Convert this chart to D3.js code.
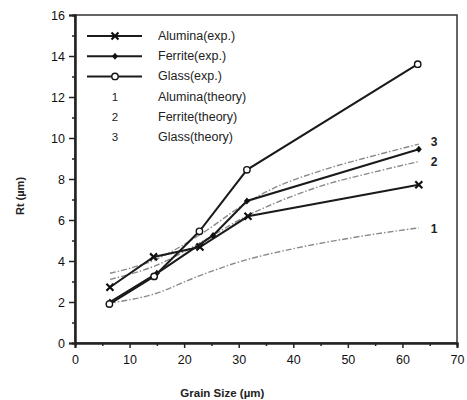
<!DOCTYPE html>
<html lang="en">
<head>
  <meta charset="UTF-8" />
  <title>Rt vs Grain Size</title>
  <script src="https://d3js.org/d3.v7.min.js"></script>
  <style>
    body { margin: 0; background: #fff; font-family: 'Liberation Sans', Arial, sans-serif; }
    svg { display: block; }
    .tick text { font-size: 12.5px; fill: #111; }
  </style>
</head>
<body>
<svg width="467" height="400"></svg>
<script>
  // experimental data (grain size µm -> Rt µm)
  const aluminaExp = [[6.4, 2.72], [14.4, 4.2], [22.9, 4.68], [31.7, 6.18], [63, 7.72]];
  const ferriteExp = [[6.4, 2.0], [15.0, 3.4], [25.3, 5.25], [31.5, 6.93], [63, 9.45]];
  const glassExp = [[6.3, 1.9], [14.5, 3.25], [22.8, 5.45], [31.5, 8.45], [62.8, 13.6]];

  // theory curves
  const aluminaTheory = [[6.4, 1.95], [14, 2.35], [23, 3.3], [30, 3.95], [40, 4.6], [50, 5.1], [63, 5.62]];
  const ferriteTheory = [[6.4, 3.1], [15, 3.8], [23, 4.9], [31.5, 6.2], [36, 6.75], [45, 7.65], [55, 8.35], [63, 8.85]];
  const glassTheory = [[6.4, 3.4], [15, 4.1], [23, 5.3], [31.5, 6.85], [36, 7.5], [45, 8.4], [55, 9.15], [63, 9.7]];

  const xTicks = [0, 10, 20, 30, 40, 50, 60, 70];
  const yTicks = [0, 2, 4, 6, 8, 10, 12, 14, 16];

  const legendItems = [
    { label: "Alumina(exp.)", kind: "cross" },
    { label: "Ferrite(exp.)", kind: "dot" },
    { label: "Glass(exp.)", kind: "circle" },
    { label: "Alumina(theory)", kind: "1" },
    { label: "Ferrite(theory)", kind: "2" },
    { label: "Glass(theory)", kind: "3" }
  ];

  const svg = d3.select("svg");
  const margin = { left: 75, top: 15, right: 10, bottom: 57 };
  const width = 467 - margin.left - margin.right;
  const height = 400 - margin.top - margin.bottom;

  const x = d3.scaleLinear().domain([0, 70]).range([0, width]);
  const y = d3.scaleLinear().domain([0, 16]).range([height, 0]);

  const g = svg.append("g").attr("transform", `translate(${margin.left},${margin.top})`);

  // frame
  g.append("rect")
    .attr("width", width).attr("height", height)
    .attr("fill", "none").attr("stroke", "#333").attr("stroke-width", 1.5);

  // axes
  g.append("g").attr("transform", `translate(0,${height})`)
    .call(d3.axisBottom(x).tickValues(xTicks).tickSize(5).tickPadding(7));
  g.append("g").attr("transform", `translate(0,${height})`)
    .call(d3.axisBottom(x).tickValues(d3.range(5, 70, 10)).tickSize(3).tickFormat(""));
  g.append("g")
    .call(d3.axisLeft(y).tickValues(yTicks).tickSize(6).tickPadding(4));
  g.append("g")
    .call(d3.axisLeft(y).tickValues(d3.range(1, 16, 2)).tickSize(3).tickFormat(""));
  g.selectAll(".domain").attr("stroke", "#222").attr("stroke-width", 2);
  g.selectAll(".tick line").attr("stroke", "#222").attr("stroke-width", 1.5);

  // theory curves (gray dash-dot)
  const curve = d3.line().x(d => x(d[0])).y(d => y(d[1])).curve(d3.curveMonotoneX);
  [aluminaTheory, ferriteTheory, glassTheory].forEach(data => {
    g.append("path").datum(data)
      .attr("d", curve)
      .attr("fill", "none")
      .attr("stroke", "#8a8a8a")
      .attr("stroke-width", 1.4)
      .attr("stroke-dasharray", "6,2,1.5,2");
  });

  // curve numbers
  [[aluminaTheory, "1"], [ferriteTheory, "2"], [glassTheory, "3"]].forEach(([data, n]) => {
    const last = data[data.length - 1];
    g.append("text")
      .attr("x", x(last[0]) + 12)
      .attr("y", y(last[1]) + 4 - (n === "3" ? 2 : 0) + (n === "1" ? 1 : 0))
      .attr("font-size", 12).attr("font-weight", "bold").attr("fill", "#222")
      .text(n);
  });

  // experimental lines
  const line = d3.line().x(d => x(d[0])).y(d => y(d[1]));
  const series = [
    { data: aluminaExp, kind: "cross" },
    { data: ferriteExp, kind: "dot" },
    { data: glassExp, kind: "circle" }
  ];

  function drawMarker(sel, kind, cx, cy) {
    if (kind === "cross") {
      sel.append("path")
        .attr("d", `M${cx - 3.5},${cy - 3.5}L${cx + 3.5},${cy + 3.5}M${cx - 3.5},${cy + 3.5}L${cx + 3.5},${cy - 3.5}`)
        .attr("stroke", "#111").attr("stroke-width", 2.2);
    } else if (kind === "dot") {
      sel.append("path")
        .attr("d", `M${cx},${cy - 3.5}L${cx + 3},${cy}L${cx},${cy + 3.5}L${cx - 3},${cy}Z`)
        .attr("fill", "#111");
    } else if (kind === "circle") {
      sel.append("circle")
        .attr("cx", cx).attr("cy", cy).attr("r", 3.2)
        .attr("fill", "#fff").attr("stroke", "#111").attr("stroke-width", 1.4);
    }
  }

  series.forEach(s => {
    g.append("path").datum(s.data)
      .attr("d", line)
      .attr("fill", "none")
      .attr("stroke", "#1a1a1a")
      .attr("stroke-width", 2);
    s.data.forEach(d => drawMarker(g, s.kind, x(d[0]), y(d[1])));
  });

  // legend
  const legend = g.append("g").attr("transform", "translate(12,21)");
  legendItems.forEach((item, i) => {
    const row = legend.append("g").attr("transform", `translate(0,${i * 20.2})`);
    if (item.kind.length > 1) {
      row.append("line").attr("x1", 0).attr("x2", 55).attr("y1", 0).attr("y2", 0)
        .attr("stroke", "#1a1a1a").attr("stroke-width", 2);
      drawMarker(row, item.kind, 28, 0);
    } else {
      row.append("text").attr("x", 28).attr("y", 4)
        .attr("text-anchor", "middle").attr("font-size", 11.5).attr("fill", "#222")
        .text(item.kind);
    }
    row.append("text").attr("x", 71).attr("y", 4)
      .attr("font-size", 12.5).attr("fill", "#222")
      .text(item.label);
  });

  // axis labels
  svg.append("text")
    .attr("x", margin.left + x(27)).attr("y", 397)
    .attr("text-anchor", "middle")
    .attr("font-size", 11.5).attr("font-weight", "bold").attr("fill", "#222")
    .text("Grain Size (\u00b5m)");

  svg.append("text")
    .attr("transform", "translate(24,196) rotate(-90)")
    .attr("text-anchor", "middle")
    .attr("font-size", 11).attr("font-weight", "bold").attr("fill", "#222")
    .text("Rt (\u00b5m)");
</script>
</body>
</html>
